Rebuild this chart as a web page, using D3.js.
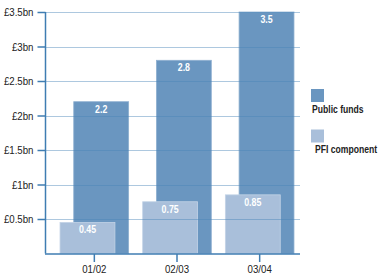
<!DOCTYPE html>
<html>
<head>
<meta charset="utf-8">
<script src="https://cdn.jsdelivr.net/npm/d3@7"></script>
<style>
  body { margin: 0; background: #fff; }
  text { font-family: "Liberation Sans", Arial, sans-serif; }
</style>
</head>
<body>
<script>
// values in £bn
var years = ["01/02", "02/03", "03/04"];
var publicFunds = [2.2, 2.8, 3.5];
var pfi = [0.45, 0.75, 0.85];
var yTicks = [0.5, 1, 1.5, 2, 2.5, 3, 3.5];
var yTickLabels = ["£0.5bn", "£1bn", "£1.5bn", "£2bn", "£2.5bn", "£3bn", "£3.5bn"];
var seriesNames = ["Public funds", "PFI component"];
var seriesColors = ["#6a96c0", "#a9bfda"];

var w = 381;
var h = 279;
var svg = d3.select("body").append("svg")
    .attr("width", w)
    .attr("height", h);

// squeeze text sideways, the original uses a condensed face
function condense(sel, k) {
    sel.each(function() {
        var t = d3.select(this);
        var x0 = +t.attr("x") || 0;
        t.attr("x", x0 / k).attr("transform", "scale(" + k + ",1)");
    });
}

var x = d3.scaleBand()
    .domain(years)
    .range([53, 301])
    .paddingInner(0.17)
    .paddingOuter(0.085);

var y = d3.scaleLinear()
    .domain([0, 3.5])
    .range([253.5, 12]);

var bw = x.bandwidth();
var sub = bw * 0.8;

// Public funds bars (behind)
svg.selectAll(".pub")
    .data(publicFunds)
    .enter().append("rect")
    .attr("x", function(d, i) { return x(years[i]) + bw - sub; })
    .attr("y", function(d) { return y(d); })
    .attr("width", sub)
    .attr("height", function(d) { return y(0) - y(d); })
    .attr("fill", seriesColors[0])
    .attr("stroke", "#8fb0d0")
    .attr("stroke-width", 0.8);

// PFI bars (front)
svg.selectAll(".pfi")
    .data(pfi)
    .enter().append("rect")
    .attr("x", function(d, i) { return x(years[i]); })
    .attr("y", function(d) { return y(d); })
    .attr("width", sub)
    .attr("height", function(d) { return y(0) - y(d); })
    .attr("fill", seriesColors[1])
    .attr("stroke", "#c3d3e6")
    .attr("stroke-width", 0.8);

// gridlines on top of bars
svg.selectAll(".grid")
    .data(yTicks)
    .enter().append("line")
    .attr("x1", 45)
    .attr("x2", 300)
    .attr("y1", function(d) { return Math.round(y(d)) + 0.5; })
    .attr("y2", function(d) { return Math.round(y(d)) + 0.5; })
    .attr("stroke", "#4a84b8")
    .attr("stroke-opacity", 0.45)
    .attr("stroke-width", 1);

// value labels
var pubLbl = svg.selectAll(".publbl")
    .data(publicFunds)
    .enter().append("text")
    .attr("x", function(d, i) { return x(years[i]) + bw - sub / 2; })
    .attr("y", function(d) { return y(d) + 11; })
    .attr("text-anchor", "middle")
    .attr("font-size", 10.5)
    .attr("font-weight", "bold")
    .attr("fill", "#fff")
    .text(function(d) { return d; });
condense(pubLbl, 0.84);

var pfiLbl = svg.selectAll(".pfilbl")
    .data(pfi)
    .enter().append("text")
    .attr("x", function(d, i) { return x(years[i]) + sub / 2; })
    .attr("y", function(d) { return y(d) + 11; })
    .attr("text-anchor", "middle")
    .attr("font-size", 10.5)
    .attr("font-weight", "bold")
    .attr("fill", "#fff")
    .text(function(d) { return d; });
condense(pfiLbl, 0.84);

// y axis
var yAxis = d3.axisLeft(y)
    .tickValues(yTicks)
    .tickSize(8)
    .tickPadding(4)
    .tickFormat(function(d, i) { return yTickLabels[i]; });

var gy = svg.append("g")
    .attr("transform", "translate(45.5,0)")
    .call(yAxis);
gy.select(".domain").attr("stroke", "#3f7db2").attr("stroke-width", 1.5)
    .attr("d", "M0," + y(3.5) + "V" + y(0));
gy.selectAll(".tick line").attr("stroke", "#3f7db2").attr("stroke-width", 1.5);
gy.selectAll(".tick text")
    .attr("font-size", 11)
    .attr("font-family", "\"Liberation Sans\", Arial, sans-serif")
    .attr("fill", "#222");
condense(gy.selectAll(".tick text"), 0.88);

// x axis
var xAxis = d3.axisBottom(x)
    .tickSize(8)
    .tickPadding(3);

var gx = svg.append("g")
    .attr("transform", "translate(0," + (y(0) + 0.5) + ")")
    .call(xAxis);
gx.select(".domain").attr("stroke", "#3f7db2").attr("stroke-width", 1.5)
    .attr("d", "M45,0H300");
gx.selectAll(".tick line").attr("stroke", "#3f7db2").attr("stroke-width", 1.5);
gx.selectAll(".tick text")
    .attr("font-size", 11)
    .attr("font-family", "\"Liberation Sans\", Arial, sans-serif")
    .attr("fill", "#222");
condense(gx.selectAll(".tick text"), 0.88);

// legend
var legend = svg.selectAll(".legend")
    .data(seriesNames)
    .enter().append("g")
    .attr("transform", function(d, i) { return "translate(311," + (89 + i * 40.5) + ")"; });

legend.append("rect")
    .attr("width", 13)
    .attr("height", 13)
    .attr("fill", function(d, i) { return seriesColors[i]; });

var legText = legend.append("text")
    .attr("x", function(d, i) { return i === 0 ? 1 : 4; })
    .attr("y", 24)
    .attr("font-size", 10.5)
    .attr("font-weight", "bold")
    .attr("fill", "#222")
    .text(function(d) { return d; });
condense(legText, 0.82);
</script>
</body>
</html>
